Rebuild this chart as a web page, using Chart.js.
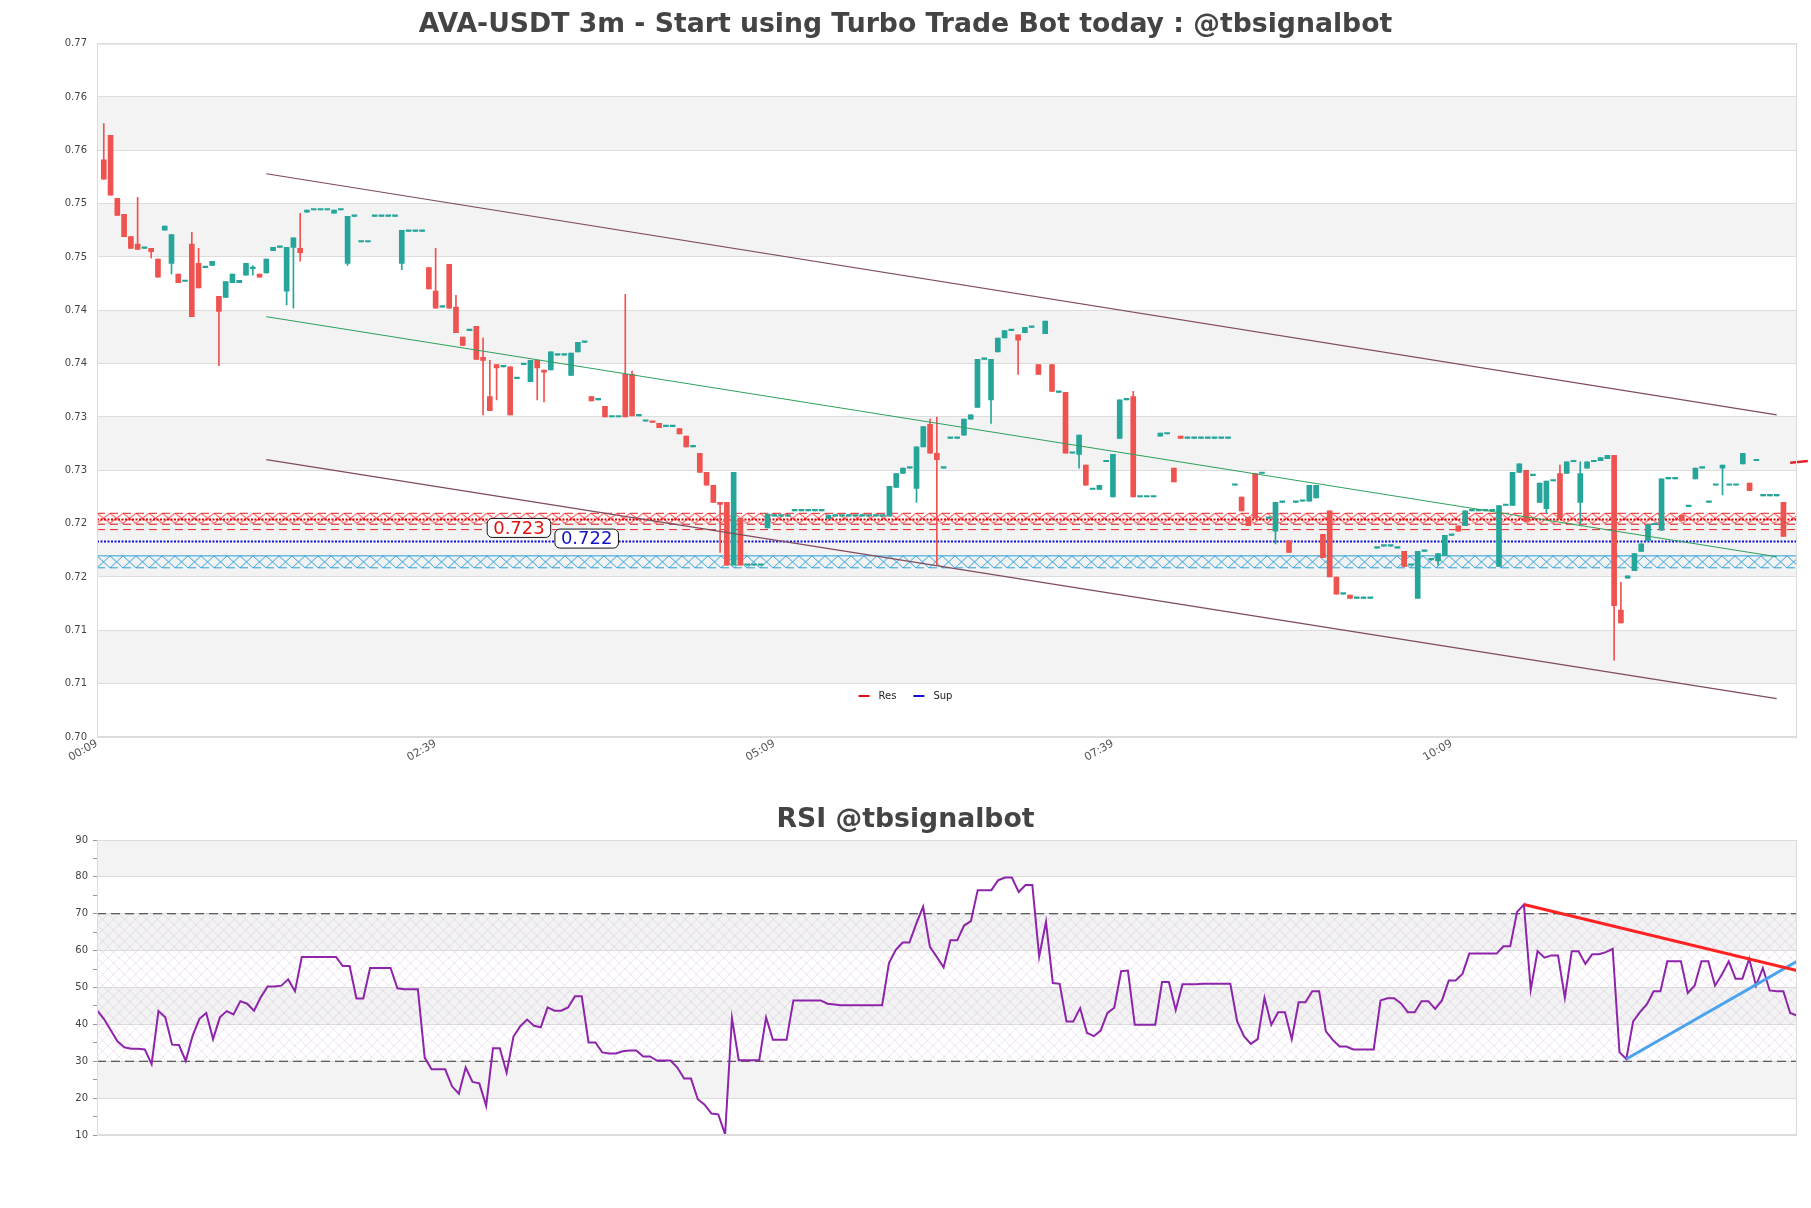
<!DOCTYPE html>
<html>
<head>
<meta charset="utf-8">
<script src="https://cdn.jsdelivr.net/npm/chart.js"></script>
<style>
  body { margin: 0; background: #fff; width: 1811px; height: 1208px; position: relative; overflow: hidden; }
  canvas { position: absolute; left: 0; }
  #price { top: 0; }
  #rsi { top: 780px; }
</style>
</head>
<body>
<canvas id="price" width="1811" height="780"></canvas>
<canvas id="rsi" width="1811" height="428"></canvas>
<script>
// x axis: one step = one 3m candle, label every 50 candles
const timeTicks = ['00:09', '02:39', '05:09', '07:39', '10:09'];
const ticksEvery = 50;

const priceTicks = [0.7026, 0.7076, 0.7126, 0.7176, 0.7226, 0.7276, 0.7326, 0.7376, 0.7426, 0.7476, 0.7526, 0.7576, 0.7626, 0.7676];
const priceTickLabels = ['0.70', '0.71', '0.71', '0.72', '0.72', '0.73', '0.73', '0.74', '0.74', '0.75', '0.75', '0.76', '0.76', '0.77'];

// candles 1..249
const opens = [
  .7567,.7590,.7531,.7516,.7495,.7488,.7484,.7484,.7474,.7501,
  .7470,.7460,.7453,.7488,.7470,.7466,.7468,.7439,.7438,.7452,
  .7452,.7459,.7465,.7460,.7461,.7482,.7485,.7444,.7485,.7484,
  .7518,.7520,.7520,.7520,.7517,.7520,.7470,.7514,.7490,.7490,
  .7514,.7514,.7514,.7514,.7470,.7500,.7500,.7500,.7466,.7444,
  .7429,.7469,.7429,.7401,.7407,.7411,.7382,.7345,.7375,.7373,
  .7373,.7362,.7375,.7359,.7379,.7370,.7370,.7384,.7384,.7365,
  .7387,.7396,.7345,.7342,.7336,.7326,.7326,.7366,.7366,.7327,
  .7322,.7322,.7320,.7317,.7317,.7315,.7308,.7298,.7292,.7274,
  .7262,.7246,.7246,.7187,.7231,.7187,.7187,.7187,.7222,.7233,
  .7233,.7233,.7238,.7238,.7238,.7238,.7238,.7231,.7233,.7233,
  .7233,.7233,.7233,.7233,.7233,.7233,.7233,.7260,.7273,.7278,
  .7259,.7298,.7319,.7292,.7278,.7306,.7306,.7309,.7324,.7335,
  .7380,.7342,.7387,.7400,.7407,.7403,.7405,.7410,.7375,.7404,
  .7375,.7349,.7349,.7292,.7291,.7281,.7258,.7258,.7284,.7251,
  .7306,.7342,.7345,.7251,.7251,.7251,.7308,.7310,.7278,.7308,
  .7306,.7306,.7306,.7306,.7306,.7306,.7306,.7262,.7251,.7232,
  .7273,.7273,.7231,.7219,.7246,.7210,.7246,.7247,.7247,.7250,
  .7216,.7238,.7176,.7160,.7159,.7156,.7156,.7156,.7203,.7205,
  .7205,.7203,.7200,.7187,.7156,.7200,.7192,.7191,.7196,.7215,
  .7224,.7224,.7238,.7238,.7238,.7238,.7186,.7243,.7243,.7274,
  .7276,.7271,.7246,.7240,.7266,.7273,.7273,.7284,.7246,.7278,
  .7284,.7285,.7287,.7290,.7145,.7175,.7182,.7200,.7210,.7225,
  .7220,.7268,.7268,.7234,.7242,.7268,.7278,.7246,.7262,.7278,
  .7262,.7262,.7282,.7264,.7285,.7252,.7252,.7252,.7246
];
const highs = [
  .7601,.7590,.7531,.7516,.7495,.7532,.7484,.7484,.7474,.7505,
  .7497,.7460,.7453,.7499,.7484,.7466,.7472,.7439,.7453,.7460,
  .7454,.7470,.7468,.7460,.7474,.7485,.7485,.7485,.7494,.7517,
  .7520,.7520,.7520,.7520,.7520,.7520,.7514,.7514,.7490,.7490,
  .7514,.7514,.7514,.7514,.7501,.7500,.7500,.7500,.7466,.7484,
  .7429,.7469,.7440,.7401,.7407,.7411,.7400,.7379,.7375,.7373,
  .7373,.7362,.7375,.7379,.7379,.7370,.7387,.7384,.7384,.7386,
  .7396,.7396,.7345,.7342,.7336,.7326,.7326,.7441,.7369,.7327,
  .7322,.7322,.7320,.7317,.7317,.7315,.7308,.7298,.7292,.7274,
  .7262,.7246,.7246,.7274,.7231,.7187,.7187,.7187,.7235,.7233,
  .7233,.7233,.7238,.7238,.7238,.7238,.7238,.7234,.7233,.7233,
  .7233,.7233,.7233,.7233,.7233,.7233,.7261,.7273,.7278,.7278,
  .7298,.7317,.7324,.7326,.7278,.7306,.7306,.7324,.7328,.7380,
  .7380,.7380,.7400,.7407,.7407,.7403,.7410,.7410,.7375,.7416,
  .7375,.7349,.7349,.7292,.7309,.7281,.7258,.7262,.7284,.7291,
  .7342,.7342,.7350,.7251,.7251,.7251,.7311,.7310,.7278,.7308,
  .7306,.7306,.7306,.7306,.7306,.7306,.7306,.7262,.7251,.7232,
  .7273,.7273,.7231,.7246,.7246,.7210,.7246,.7247,.7262,.7262,
  .7216,.7238,.7176,.7160,.7159,.7156,.7156,.7156,.7203,.7205,
  .7205,.7203,.7200,.7187,.7200,.7200,.7192,.7198,.7215,.7215,
  .7224,.7238,.7238,.7238,.7238,.7238,.7243,.7243,.7274,.7282,
  .7276,.7271,.7264,.7266,.7266,.7281,.7284,.7284,.7284,.7284,
  .7284,.7288,.7290,.7290,.7171,.7177,.7198,.7207,.7225,.7225,
  .7268,.7268,.7268,.7234,.7242,.7278,.7278,.7246,.7262,.7281,
  .7262,.7262,.7292,.7264,.7285,.7252,.7252,.7252,.7246
];
const lows = [
  .7549,.7534,.7515,.7495,.7484,.7483,.7484,.7475,.7457,.7501,
  .7460,.7452,.7453,.7420,.7447,.7466,.7468,.7374,.7438,.7452,
  .7452,.7459,.7459,.7457,.7461,.7482,.7485,.7431,.7428,.7472,
  .7518,.7520,.7520,.7520,.7517,.7520,.7468,.7514,.7490,.7490,
  .7514,.7514,.7514,.7514,.7464,.7500,.7500,.7500,.7446,.7428,
  .7429,.7428,.7405,.7393,.7407,.7380,.7328,.7332,.7342,.7373,
  .7328,.7362,.7375,.7359,.7342,.7340,.7370,.7384,.7384,.7365,
  .7387,.7396,.7341,.7342,.7326,.7326,.7326,.7326,.7327,.7327,
  .7322,.7321,.7316,.7317,.7317,.7310,.7298,.7298,.7274,.7262,
  .7246,.7199,.7187,.7187,.7187,.7187,.7187,.7187,.7222,.7233,
  .7233,.7233,.7238,.7238,.7238,.7238,.7238,.7231,.7233,.7233,
  .7233,.7233,.7233,.7233,.7233,.7233,.7233,.7260,.7273,.7278,
  .7246,.7298,.7292,.7187,.7278,.7306,.7306,.7309,.7324,.7335,
  .7380,.7320,.7387,.7400,.7407,.7366,.7405,.7410,.7366,.7404,
  .7350,.7349,.7292,.7292,.7278,.7262,.7258,.7258,.7284,.7251,
  .7306,.7342,.7251,.7251,.7251,.7251,.7308,.7310,.7265,.7306,
  .7306,.7306,.7306,.7306,.7306,.7306,.7306,.7262,.7238,.7224,
  .7231,.7273,.7231,.7207,.7246,.7199,.7246,.7247,.7247,.7250,
  .7194,.7176,.7160,.7160,.7156,.7156,.7156,.7156,.7203,.7205,
  .7205,.7203,.7186,.7187,.7156,.7200,.7192,.7187,.7196,.7215,
  .7219,.7224,.7238,.7238,.7238,.7238,.7186,.7243,.7243,.7274,
  .7228,.7271,.7246,.7236,.7266,.7231,.7273,.7284,.7226,.7278,
  .7284,.7285,.7287,.7098,.7133,.7175,.7182,.7200,.7210,.7225,
  .7220,.7268,.7268,.7229,.7242,.7268,.7278,.7246,.7262,.7253,
  .7262,.7262,.7282,.7257,.7285,.7252,.7252,.7252,.7214
];
const closes = [
  .7549,.7534,.7515,.7495,.7484,.7483,.7484,.7481,.7457,.7505,
  .7497,.7452,.7453,.7420,.7447,.7466,.7472,.7425,.7453,.7460,
  .7454,.7470,.7466,.7457,.7474,.7485,.7485,.7485,.7494,.7480,
  .7520,.7520,.7520,.7520,.7520,.7520,.7514,.7514,.7490,.7490,
  .7514,.7514,.7514,.7514,.7501,.7500,.7500,.7500,.7446,.7428,
  .7429,.7428,.7405,.7393,.7407,.7380,.7379,.7332,.7372,.7373,
  .7328,.7362,.7375,.7379,.7372,.7368,.7387,.7384,.7384,.7386,
  .7396,.7396,.7341,.7342,.7326,.7326,.7326,.7326,.7327,.7327,
  .7322,.7321,.7316,.7317,.7317,.7310,.7298,.7298,.7274,.7262,
  .7246,.7244,.7187,.7274,.7187,.7187,.7187,.7187,.7235,.7233,
  .7233,.7233,.7238,.7238,.7238,.7238,.7238,.7234,.7233,.7233,
  .7233,.7233,.7233,.7233,.7233,.7233,.7261,.7273,.7278,.7278,
  .7298,.7317,.7292,.7286,.7278,.7306,.7306,.7324,.7328,.7380,
  .7380,.7380,.7400,.7407,.7407,.7398,.7410,.7410,.7366,.7416,
  .7350,.7349,.7292,.7292,.7309,.7262,.7258,.7262,.7284,.7291,
  .7342,.7342,.7251,.7251,.7251,.7251,.7311,.7310,.7265,.7306,
  .7306,.7306,.7306,.7306,.7306,.7306,.7306,.7262,.7238,.7224,
  .7231,.7273,.7231,.7246,.7246,.7199,.7246,.7247,.7262,.7262,
  .7194,.7176,.7160,.7160,.7156,.7156,.7156,.7156,.7203,.7205,
  .7205,.7203,.7186,.7187,.7200,.7200,.7192,.7198,.7215,.7215,
  .7219,.7238,.7238,.7238,.7238,.7238,.7243,.7243,.7274,.7282,
  .7228,.7271,.7264,.7266,.7266,.7231,.7284,.7284,.7273,.7284,
  .7284,.7288,.7290,.7149,.7133,.7177,.7198,.7207,.7225,.7225,
  .7268,.7268,.7268,.7229,.7242,.7278,.7278,.7246,.7262,.7281,
  .7262,.7262,.7292,.7257,.7285,.7252,.7252,.7252,.7214
];

// channel (start / end candle, price at start / end)
const channelX = [25, 248];
const upperLine = [0.7554, 0.7328];
const midLine = [0.7420, 0.7195];
const lowerLine = [0.7286, 0.7062];

// support / resistance
const resLevel = 0.72298;
const resZone = [0.72357, 0.72262];
const resDashes = [0.72357, 0.72254, 0.72204];
const supLevel = 0.72092;
const supZone = [0.71958, 0.71846];
const levelLabels = ['0.723', '0.722'];
const labelX = [62.3, 72.3];
const labelY = [0.7222, 0.7212];
const legendNames = ['Res', 'Sup'];
const lastMark = [[250.0, 0.72831], [252.6, 0.72848]];

// RSI, one value per step
const rsi = [
  43.9,41.5,38.5,35.4,33.8,33.4,33.4,33.2,29.2,43.6,
  41.9,34.5,34.4,30.1,36.9,41.5,43.1,36.0,41.9,43.6,
  42.7,46.3,45.6,43.7,47.4,50.3,50.3,50.5,52.2,49.0,
  58.3,58.3,58.3,58.3,58.3,58.3,55.8,55.8,47.0,47.0,
  55.3,55.3,55.3,55.3,49.8,49.5,49.5,49.5,31.0,27.8,
  27.8,27.8,23.2,21.2,28.3,24.4,24.0,17.9,33.5,33.5,
  26.9,36.7,39.5,41.3,39.6,39.2,44.6,43.7,43.7,44.6,
  47.6,47.6,35.1,35.1,32.4,32.1,32.1,32.7,32.9,32.9,
  31.3,31.3,30.2,30.2,30.2,28.3,25.3,25.3,19.7,18.2,
  15.8,15.6,10.2,41.7,30.3,30.3,30.3,30.3,41.9,35.8,
  35.8,35.8,46.5,46.5,46.5,46.5,46.5,45.6,45.4,45.2,
  45.2,45.2,45.2,45.2,45.2,45.2,56.6,60.2,62.2,62.2,
  67.3,71.9,61.0,58.3,55.5,62.8,62.8,66.8,68.0,76.4,
  76.4,76.4,79.1,79.8,79.8,75.9,77.8,77.8,58.4,67.8,
  51.2,51.0,40.8,40.8,44.4,37.7,36.8,38.3,43.1,44.5,
  54.4,54.6,39.9,39.9,39.9,39.9,51.5,51.5,43.9,50.9,
  50.9,50.9,51.0,51.0,51.0,51.0,51.0,40.8,36.8,34.7,
  36.0,47.2,39.9,43.3,43.3,36.0,46.0,46.0,49.0,49.0,
  38.1,35.8,34.0,34.0,33.2,33.2,33.2,33.2,46.5,47.1,
  47.1,45.7,43.3,43.3,46.3,46.3,44.2,46.5,51.9,51.9,
  53.7,59.2,59.2,59.2,59.2,59.2,61.2,61.2,70.5,72.5,
  49.4,59.9,58.1,58.7,58.7,47.2,59.8,59.8,56.4,59.0,
  59.0,59.6,60.5,32.4,30.6,40.8,43.3,45.4,49.0,49.0,
  57.1,57.1,57.1,48.5,50.5,57.1,57.1,50.5,53.5,57.1,
  52.4,52.4,57.8,50.5,55.3,49.2,49.0,49.0,43.1,42.4
];
const rsiLevels = [70, 30];
const rsiBands = [10, 20, 30, 40, 50, 60, 70, 80, 90];
const rsiResLine = [[209, 72.5], [249, 54.6]];
const rsiSupLine = [[224, 30.6], [249, 57.1]];

const UP = '#26a69a';
const DOWN = '#ef5350';
const FONT = 'DejaVu Sans';

Chart.defaults.font.family = FONT;
Chart.defaults.animation = false;

const pts = arr => arr.map(p => ({ x: p[0], y: p[1] }));

// empty axis on the right that only reserves the gap after the plot,
// so the title stays centred on the whole canvas
const spacerAxis = {
  position: 'right',
  grid: { display: false },
  border: { display: false },
  ticks: { display: false },
  afterFit: s => { s.width = 14; }
};

function hline(ctx, area, y, color, width, dash) {
  ctx.save();
  ctx.strokeStyle = color;
  ctx.lineWidth = width;
  ctx.setLineDash(dash);
  ctx.beginPath();
  ctx.moveTo(area.left, y);
  ctx.lineTo(area.right, y);
  ctx.stroke();
  ctx.restore();
}

function xPattern(ctx, color, w, h) {
  const c = document.createElement('canvas');
  c.width = w;
  c.height = Math.max(2, Math.round(h));
  const g = c.getContext('2d');
  g.strokeStyle = color;
  g.lineWidth = 1;
  g.beginPath();
  g.moveTo(0, 0); g.lineTo(w, c.height);
  g.moveTo(0, c.height); g.lineTo(w, 0);
  g.stroke();
  return ctx.createPattern(c, 'repeat');
}

function fillPattern(ctx, area, top, bottom, color, w) {
  const pat = xPattern(ctx, color, w, bottom - top);
  pat.setTransform(new DOMMatrix().translate(area.left, top));
  ctx.save();
  ctx.fillStyle = pat;
  ctx.fillRect(area.left, top, area.right - area.left, bottom - top);
  ctx.restore();
}

// alternating grey bands + plot frame
const bandPlugin = {
  id: 'bands',
  beforeDraw(chart, args, opts) {
    const { ctx, chartArea: a, scales: { y } } = chart;
    const v = opts.values;
    ctx.save();
    ctx.fillStyle = '#f3f3f3';
    for (let k = 1; k < v.length - 1; k += 2) {
      const y0 = y.getPixelForValue(v[k]);
      const y1 = y.getPixelForValue(v[k + 1]);
      ctx.fillRect(a.left, y1, a.right - a.left, y0 - y1);
    }
    ctx.restore();
  },
  afterDraw(chart) {
    const { ctx, chartArea: a } = chart;
    ctx.save();
    ctx.strokeStyle = '#dcdcdc';
    ctx.lineWidth = 1;
    ctx.strokeRect(a.left + 0.5, a.top + 0.5, a.right - a.left - 1, a.bottom - a.top - 1);
    ctx.restore();
  }
};

const zonePlugin = {
  id: 'zones',
  beforeDatasetsDraw(chart) {
    const { ctx, chartArea: a, scales: { y } } = chart;
    // resistance
    const rTop = y.getPixelForValue(resZone[0]);
    const rBot = y.getPixelForValue(resZone[1]);
    fillPattern(ctx, a, rTop, rBot, '#ff2020', 13);
    resDashes.forEach(v => hline(ctx, a, y.getPixelForValue(v), '#e52222', 1, [8, 5]));
    hline(ctx, a, y.getPixelForValue(resLevel), '#e00000', 2, [2, 1.5]);
    // support
    const sTop = y.getPixelForValue(supZone[0]);
    const sBot = y.getPixelForValue(supZone[1]);
    fillPattern(ctx, a, sTop, sBot, '#2ba0d8', 13);
    hline(ctx, a, sTop, '#2ba0d8', 1, []);
    hline(ctx, a, sBot, '#2ba0d8', 1, [8, 5]);
    hline(ctx, a, y.getPixelForValue(supLevel), '#1010d0', 2, [2, 1.5]);
  },
  afterDatasetsDraw(chart) {
    const { ctx, chartArea: a, scales: { x, y } } = chart;
    const colors = ['#e41010', '#1515c8'];
    ctx.save();
    ctx.font = '18px ' + FONT;
    ctx.textBaseline = 'middle';
    ctx.textAlign = 'center';
    levelLabels.forEach((t, k) => {
      const cx = x.getPixelForValue(labelX[k]);
      const cy = y.getPixelForValue(labelY[k]);
      const w = ctx.measureText(t).width + 12;
      const h = 19;
      ctx.beginPath();
      ctx.roundRect(cx - w / 2, cy - h / 2, w, h, 5);
      ctx.fillStyle = '#fff';
      ctx.fill();
      ctx.strokeStyle = '#111';
      ctx.lineWidth = 1;
      ctx.stroke();
      ctx.fillStyle = colors[k];
      ctx.fillText(t, cx, cy + 1);
    });
    // legend, centred on canvas
    ctx.font = '10px ' + FONT;
    ctx.textAlign = 'left';
    const legColors = ['#e41010', '#1515c8'];
    const widths = legendNames.map(n => 11 + 9 + ctx.measureText(n).width);
    const total = widths.reduce((s, w) => s + w, 0) + 17 * (legendNames.length - 1);
    let lx = chart.width / 2 - total / 2;
    const ly = a.bottom - 41;
    legendNames.forEach((n, k) => {
      ctx.fillStyle = legColors[k];
      ctx.fillRect(lx, ly - 1, 11, 2);
      ctx.fillStyle = '#222';
      ctx.fillText(n, lx + 20, ly);
      lx += widths[k] + 17;
    });
    ctx.restore();
  }
};

const idx = opens.map((_, k) => k + 1);
const candleColors = opens.map((o, k) => closes[k] >= o ? UP : DOWN);

new Chart(document.getElementById('price'), {
  type: 'bar',
  data: {
    datasets: [
      {
        label: 'body',
        data: idx.map((i, k) => ({ x: i, y: [opens[k], closes[k]] })),
        backgroundColor: candleColors,
        barThickness: 5,
        minBarLength: 1.5,
        grouped: false,
        order: 2
      },
      {
        label: 'wick',
        data: idx.map((i, k) => ({ x: i, y: [lows[k], highs[k]] })),
        backgroundColor: candleColors,
        barThickness: 1,
        grouped: false,
        order: 3
      },
      {
        type: 'line', label: 'upper',
        data: channelX.map((cx, k) => ({ x: cx, y: upperLine[k] })),
        borderColor: '#7f4b5f', borderWidth: 1.2, pointRadius: 0, order: 1
      },
      {
        type: 'line', label: 'mid',
        data: channelX.map((cx, k) => ({ x: cx, y: midLine[k] })),
        borderColor: '#2ea05a', borderWidth: 1, pointRadius: 0, order: 1
      },
      {
        type: 'line', label: 'lower',
        data: channelX.map((cx, k) => ({ x: cx, y: lowerLine[k] })),
        borderColor: '#7f4b5f', borderWidth: 1.2, pointRadius: 0, order: 1
      },
      {
        type: 'line', label: 'last',
        data: pts(lastMark),
        borderColor: '#e8202a', borderWidth: 2.5, pointRadius: 0, clip: false, order: 0
      }
    ]
  },
  options: {
    responsive: false,
    devicePixelRatio: 1,
    layout: { padding: 0 },
    plugins: {
      legend: { display: false },
      tooltip: { enabled: false },
      title: {
        display: true,
        text: 'AVA-USDT 3m - Start using Turbo Trade Bot today : @tbsignalbot',
        color: '#444',
        font: { family: FONT, size: 26.7, weight: 'bold' },
        padding: { top: 8.8, bottom: 2.76 }
      },
      bands: { values: priceTicks }
    },
    scales: {
      x: {
        type: 'linear',
        min: 0,
        max: 251,
        offset: false,
        grid: { display: false, offset: false },
        border: { display: false },
        afterBuildTicks: s => { s.ticks = timeTicks.map((_, k) => ({ value: k * ticksEvery })); },
        afterFit: s => { s.height = 43; },
        ticks: {
          autoSkip: false,
          minRotation: 30,
          maxRotation: 30,
          padding: -8,
          color: '#555',
          font: { size: 11 },
          callback: (v, k) => timeTicks[k]
        }
      },
      y: {
        type: 'linear',
        min: priceTicks[0],
        max: priceTicks[priceTicks.length - 1],
        grid: { color: '#dddddd', drawTicks: false },
        border: { display: false },
        afterBuildTicks: s => { s.ticks = priceTicks.map(v => ({ value: v })); },
        afterFit: s => { s.width = 97; },
        ticks: {
          padding: 10,
          color: '#444',
          font: { size: 10 },
          callback: (v, k) => priceTickLabels[k]
        }
      },
      yRight: spacerAxis
    }
  },
  plugins: [bandPlugin, zonePlugin]
});

// RSI hatch between the two levels
const hatchPlugin = {
  id: 'hatch',
  beforeDatasetsDraw(chart) {
    const { ctx, chartArea: a, scales: { y } } = chart;
    const top = y.getPixelForValue(rsiLevels[0]);
    const bottom = y.getPixelForValue(rsiLevels[1]);
    const c = document.createElement('canvas');
    c.width = 11; c.height = 11;
    const g = c.getContext('2d');
    g.strokeStyle = 'rgba(195,160,205,0.3)';
    g.lineWidth = 1;
    g.beginPath();
    g.moveTo(0, 0); g.lineTo(11, 11);
    g.moveTo(0, 11); g.lineTo(11, 0);
    g.stroke();
    const pat = ctx.createPattern(c, 'repeat');
    pat.setTransform(new DOMMatrix().translate(a.left, top));
    ctx.save();
    ctx.fillStyle = pat;
    ctx.fillRect(a.left, top, a.right - a.left, bottom - top);
    ctx.restore();
  }
};

new Chart(document.getElementById('rsi'), {
  type: 'line',
  data: {
    datasets: [
      {
        label: 'RSI',
        data: rsi.map((v, j) => ({ x: j, y: v })),
        borderColor: '#8e24aa', borderWidth: 2, pointRadius: 0, tension: 0, order: 2
      },
      ...rsiLevels.map(v => ({
        label: 'level ' + v,
        data: [{ x: 0, y: v }, { x: rsi.length - 1, y: v }],
        borderColor: '#333', borderWidth: 1.2, borderDash: [9, 5], pointRadius: 0, order: 3
      })),
      {
        label: 'rsi res',
        data: pts(rsiResLine),
        borderColor: '#ff2222', borderWidth: 3, pointRadius: 0, order: 1
      },
      {
        label: 'rsi sup',
        data: pts(rsiSupLine),
        borderColor: '#4aa3ee', borderWidth: 3, pointRadius: 0, order: 1
      }
    ]
  },
  options: {
    responsive: false,
    devicePixelRatio: 1,
    layout: { padding: { left: 0, right: 0, top: 0, bottom: 73 } },
    plugins: {
      legend: { display: false },
      tooltip: { enabled: false },
      title: {
        display: true,
        text: 'RSI @tbsignalbot',
        color: '#444',
        font: { family: FONT, size: 26.7, weight: 'bold' },
        padding: { top: 24.4, bottom: 3.56 }
      },
      bands: { values: rsiBands }
    },
    scales: {
      x: { type: 'linear', min: 0, max: rsi.length - 1, display: false },
      y: {
        min: 10,
        max: 90,
        border: { display: false },
        grid: {
          color: c => c.tick.value % 10 === 0 ? '#dddddd' : 'rgba(0,0,0,0)',
          tickColor: '#999',
          tickLength: 4
        },
        afterFit: s => { s.width = 97; },
        ticks: {
          stepSize: 5,
          autoSkip: false,
          padding: 5,
          color: '#444',
          font: { size: 10 },
          callback: v => v % 10 === 0 ? String(v) : ''
        }
      },
      yRight: spacerAxis
    }
  },
  plugins: [bandPlugin, hatchPlugin]
});
</script>
</body>
</html>
